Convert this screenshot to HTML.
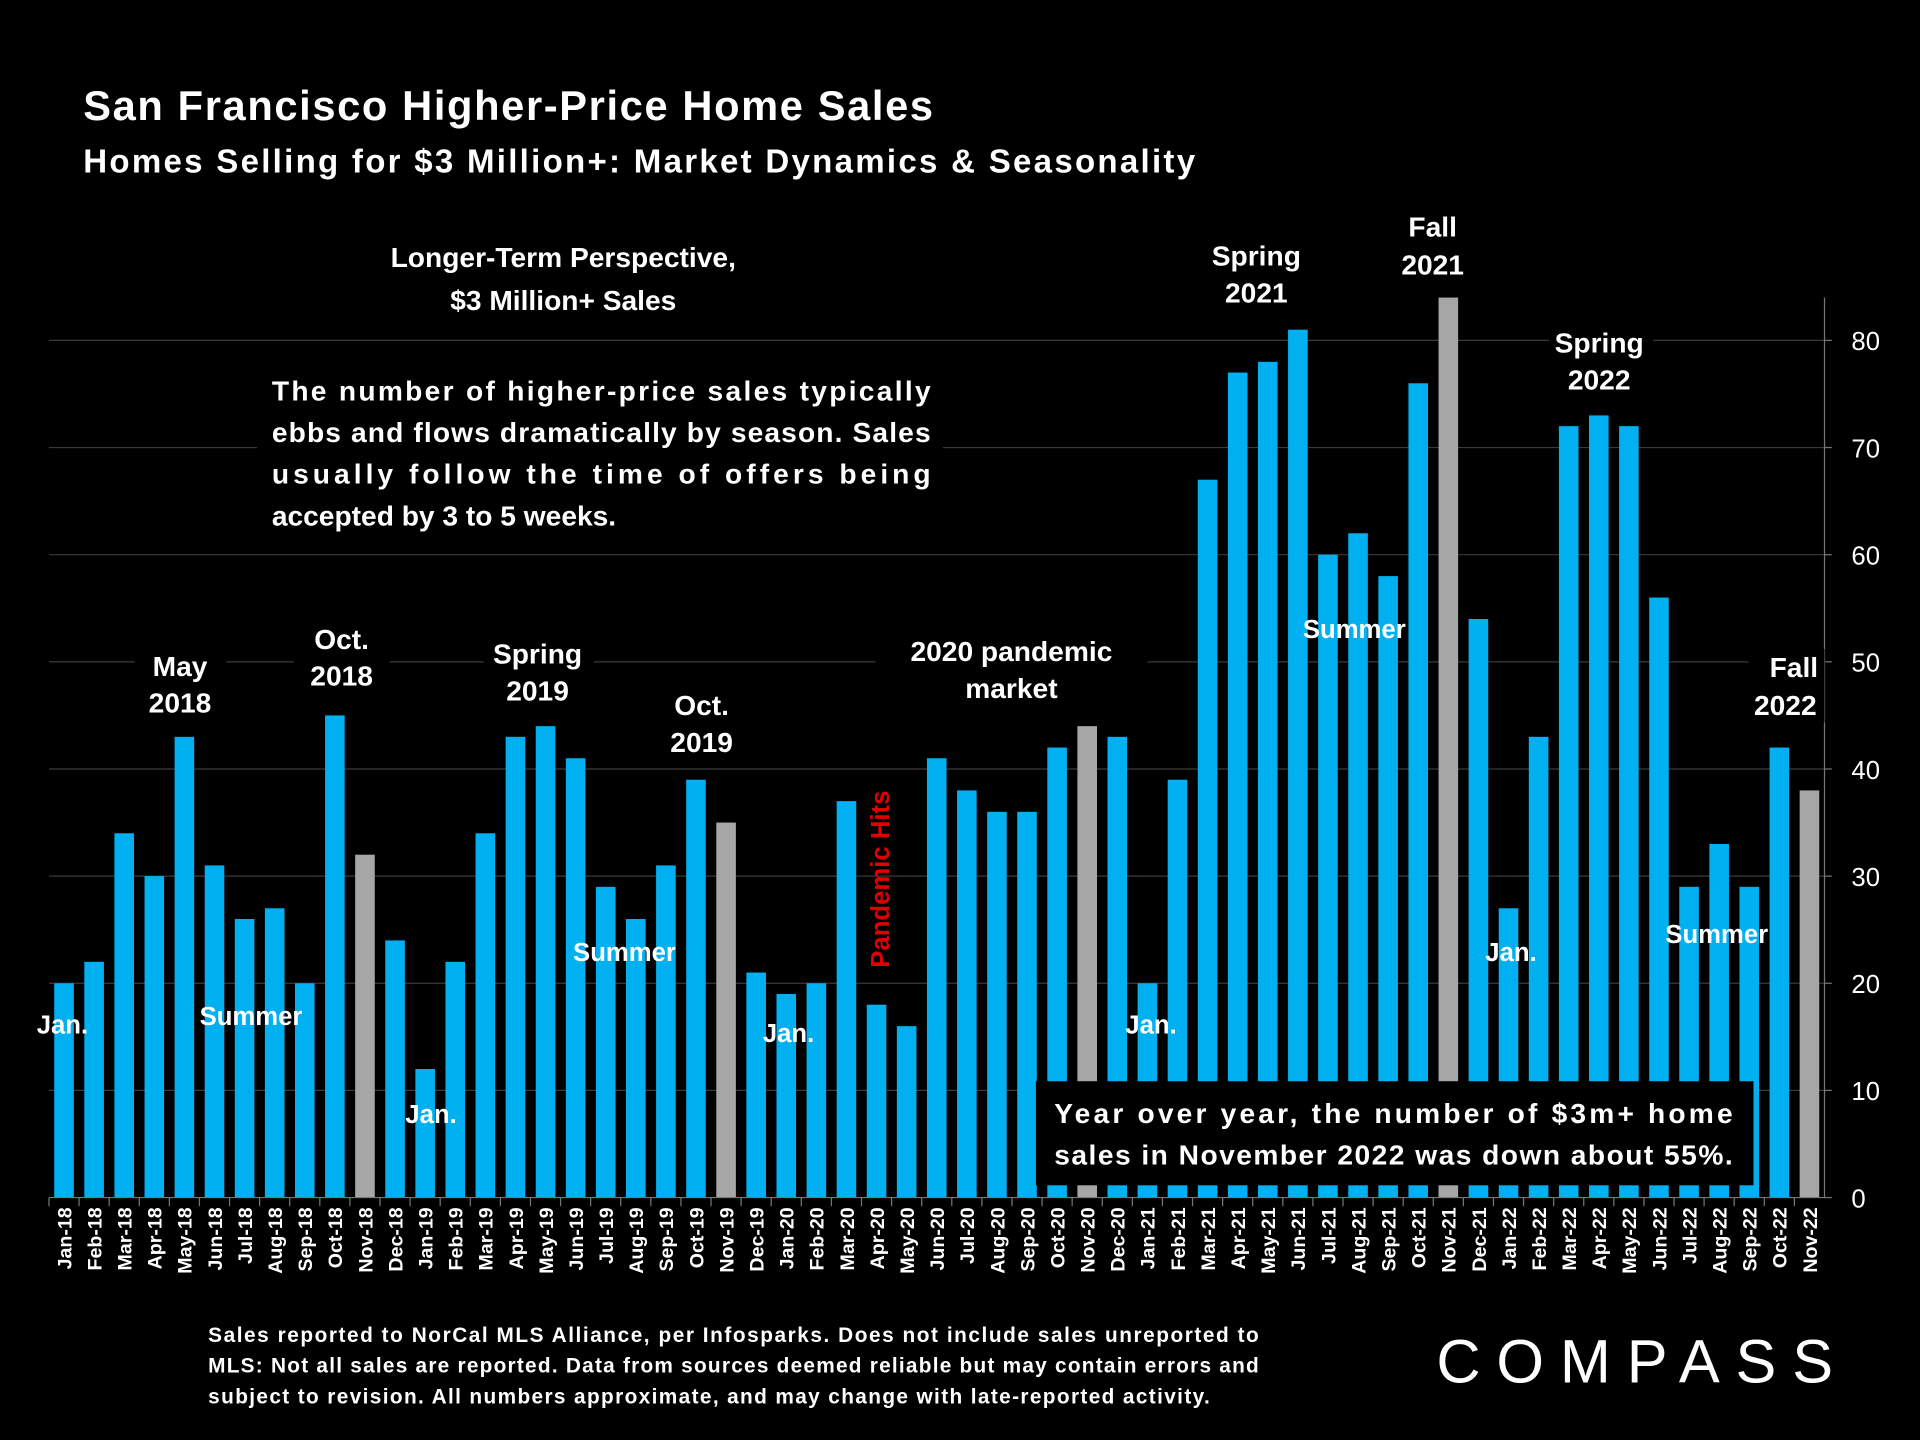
<!DOCTYPE html>
<html><head><meta charset="utf-8">
<style>
html,body{margin:0;padding:0;background:#000;}
svg{display:block;font-family:"Liberation Sans",sans-serif;}
</style></head>
<body>
<svg id="chart" width="1920" height="1440" viewBox="0 0 1568 1176" xmlns="http://www.w3.org/2000/svg">
<rect width="1568" height="1176" fill="#000"/>
<g id="grid"></g>
<g id="bars"></g>
<g id="xaxis"></g>
<g id="yaxis"></g>

<text x="68" y="98" fill="#fff" font-size="34" font-weight="bold" textLength="694">San Francisco Higher-Price Home Sales</text>
<text x="68" y="141" fill="#fff" font-size="27" font-weight="bold" textLength="908">Homes Selling for  $3 Million+: Market Dynamics &amp; Seasonality</text>

<g fill="#fff" font-weight="bold" text-anchor="middle" font-size="23">
<rect x="290" y="190" width="340" height="75" fill="#000"/>
<text x="460" y="218">Longer-Term Perspective,</text>
<text x="460" y="253">$3 Million+ Sales</text>
<rect x="210" y="298" width="560" height="140" fill="#000"/>
<g text-anchor="start">
<text x="222" y="327" textLength="538">The number of higher-price sales typically</text>
<text x="222" y="361" textLength="538">ebbs and flows dramatically by season. Sales</text>
<text x="222" y="395" textLength="538">usually follow the time of offers being</text>
<text x="222" y="429">accepted by 3 to 5 weeks.</text>
</g>
<rect x="110" y="528" width="75" height="60" fill="#000"/>
<text x="147" y="552">May</text><text x="147" y="582">2018</text>
<rect x="240" y="506" width="78" height="60" fill="#000"/>
<text x="279" y="530">Oct.</text><text x="279" y="560">2018</text>
<rect x="395" y="518" width="90" height="60" fill="#000"/>
<text x="439" y="542">Spring</text><text x="439" y="572">2019</text>
<rect x="528" y="560" width="90" height="60" fill="#000"/>
<text x="573" y="584">Oct.</text><text x="573" y="614">2019</text>
<rect x="715" y="516" width="222" height="62" fill="#000"/>
<text x="826" y="540">2020 pandemic</text><text x="826" y="570">market</text>
<text x="1026" y="217">Spring</text><text x="1026" y="247">2021</text>
<text x="1170" y="193">Fall</text><text x="1170" y="224">2021</text>
<rect x="1265" y="264" width="85" height="62" fill="#000"/>
<text x="1306" y="288">Spring</text><text x="1306" y="318">2022</text>
<rect x="1428" y="530" width="62" height="60" fill="#000"/>
<text x="1465" y="553">Fall</text><text x="1458" y="584">2022</text>
<g font-size="21">
<text x="51" y="844">Jan.</text>
<text x="205" y="837">Summer</text>
<text x="352" y="917">Jan.</text>
<text x="510" y="785">Summer</text>
<text x="644" y="851">Jan.</text>
<text x="940" y="844">Jan.</text>
<text x="1106" y="521">Summer</text>
<text x="1234" y="785">Jan.</text>
<text x="1402" y="770">Summer</text>
</g>
<text transform="translate(726,718) rotate(-90)" fill="#e00000" font-size="21">Pandemic Hits</text>
<rect x="846" y="883" width="586" height="85" fill="#000"/>
<g text-anchor="start" font-size="23">
<text x="861" y="917" textLength="554">Year over year, the number of $3m+ home</text>
<text x="861" y="951" textLength="554">sales in November 2022 was down about 55%.</text>
</g>
</g>

<g fill="#fff" font-size="17" font-weight="bold">
<text x="170" y="1096" textLength="858">Sales reported to NorCal MLS Alliance, per Infosparks. Does not include sales unreported to</text>
<text x="170" y="1121" textLength="858">MLS: Not all sales are reported. Data from sources deemed reliable but may contain errors and</text>
<text x="170" y="1146" textLength="818">subject to revision.  All numbers approximate, and may change with late-reported activity.</text>
</g>
<text x="1173" y="1129" fill="#fff" font-size="50" textLength="330" letter-spacing="6">COMPASS</text>

<script>
const categories = ["Jan-18","Feb-18","Mar-18","Apr-18","May-18","Jun-18","Jul-18","Aug-18","Sep-18","Oct-18","Nov-18","Dec-18",
"Jan-19","Feb-19","Mar-19","Apr-19","May-19","Jun-19","Jul-19","Aug-19","Sep-19","Oct-19","Nov-19","Dec-19",
"Jan-20","Feb-20","Mar-20","Apr-20","May-20","Jun-20","Jul-20","Aug-20","Sep-20","Oct-20","Nov-20","Dec-20",
"Jan-21","Feb-21","Mar-21","Apr-21","May-21","Jun-21","Jul-21","Aug-21","Sep-21","Oct-21","Nov-21","Dec-21",
"Jan-22","Feb-22","Mar-22","Apr-22","May-22","Jun-22","Jul-22","Aug-22","Sep-22","Oct-22","Nov-22"];
const sales = [20,22,34,30,43,31,26,27,20,45,32,24,
12,22,34,43,44,41,29,26,31,39,35,21,
19,20,37,18,16,41,38,36,36,42,44,43,
20,39,67,77,78,81,60,62,58,76,84,54,
27,43,72,73,72,56,29,33,29,42,38];
const highlighted = ["Nov-18","Nov-19","Nov-20","Nov-21","Nov-22"];
const yTicks = [0,10,20,30,40,50,60,70,80];

const NS="http://www.w3.org/2000/svg";
const left=40, right=1490, y0=978, pxPerUnit=8.75;
const step=(right-left)/categories.length;
function xPos(i){return left+step*(i+0.5);}
function yPos(v){return y0-v*pxPerUnit;}
function mk(tag,attrs,parent){const e=document.createElementNS(NS,tag);for(const k in attrs)e.setAttribute(k,attrs[k]);parent.appendChild(e);return e;}

const grid=document.getElementById('grid'), bars=document.getElementById('bars'),
 xa=document.getElementById('xaxis'), ya=document.getElementById('yaxis');

yTicks.forEach(t=>{
 if(t>0){const g=mk('line',{x1:left,x2:right,y1:yPos(t),y2:yPos(t),stroke:'#3a3a3a','stroke-width':1},grid);
 
 }
 const tk=mk('line',{x1:right,x2:right+6,y1:yPos(t),y2:yPos(t),stroke:'#777','stroke-width':1},ya);
 
 
 const lb=mk('text',{x:right+22,y:yPos(t)+8,fill:'#fff','font-size':21},ya);
 lb.textContent=t;
 
 
});
const ax=mk('line',{x1:right,x2:right,y1:yPos(84),y2:y0,stroke:'#777','stroke-width':1},ya);



const bw=16;
categories.forEach((c,i)=>{
 const v=sales[i];
 const r=mk('rect',{x:xPos(i)-bw/2,y:yPos(v),width:bw,height:v*pxPerUnit,fill:highlighted.includes(c)?'#a6a6a6':'#00b0f0'},bars);
 
 
 const tk=mk('line',{x1:left+step*i,x2:left+step*i,y1:y0,y2:y0+7,stroke:'#777','stroke-width':1},xa);
 
 
 const lb=mk('text',{transform:`translate(${xPos(i)+6},${y0+8}) rotate(-90)`,fill:'#fff','font-size':16,'font-weight':'bold','text-anchor':'end'},xa);
 lb.textContent=c;
 
 
});
const xl=mk('line',{x1:left,x2:right,y1:y0,y2:y0,stroke:'#777','stroke-width':1},xa);


</script>
</svg>
</body></html>
